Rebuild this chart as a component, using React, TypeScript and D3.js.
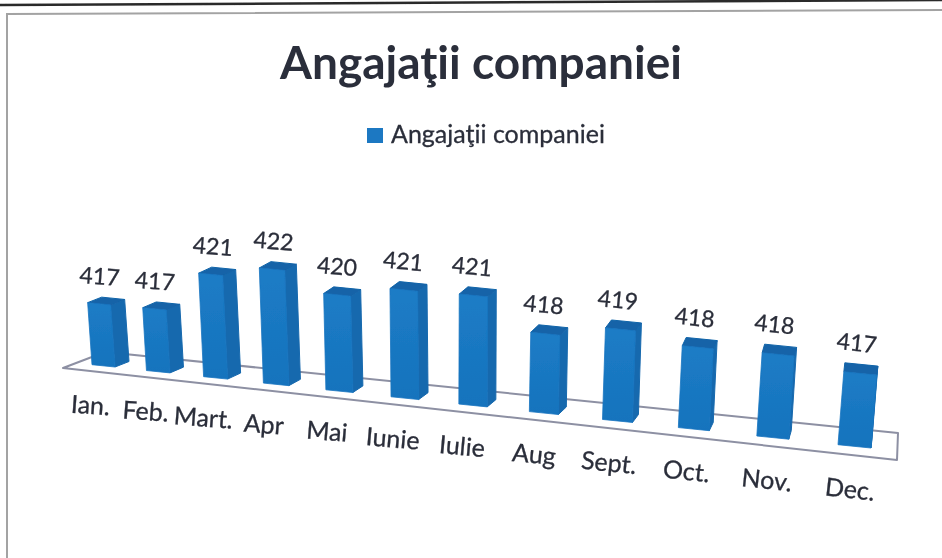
import React from 'react';
import * as d3 from 'd3';

const months = ['Ian.', 'Feb.', 'Mart.', 'Apr', 'Mai', 'Iunie', 'Iulie', 'Aug', 'Sept.', 'Oct.', 'Nov.', 'Dec.'];
const employees = [417, 417, 421, 422, 420, 421, 421, 418, 419, 418, 418, 417];
const title = 'Angajaţii companiei';

const width = 942;
const height = 558;
const fontFamily = 'Lato, "Open Sans", sans-serif';
const textColor = '#2b2e3a';

// the chart sits on a tilted floor, so every scale here depends on the position along that floor
const vanish = 19.9;
const lastIndex = months.length - 1;
const xBase = d3.scalePow().exponent(2).domain([vanish, vanish + lastIndex]).range([92, 838]);
const baseY = d3.scaleLinear().domain([115, 871]).range([367, 448]);
const yUnit = d3.scaleLinear().domain([92, 838]).range([9.65, 11.7]);
const yZero = 410;
const frontWidth = d3.scaleLinear().domain([92, 204, 327, 527, 838]).range([23, 24, 27, 29, 33]);
const sideX = d3.scaleLinear().domain([92, 204, 327, 527, 675, 838]).range([14, 13, 10, 8, 4, 1]);
const sideY = d3.scaleLinear().domain([92, 838]).range([-5.5, -9]);
const lean = d3.scaleLinear().domain([92, 838]).range([-0.07, 0.08]);
const valueDx = d3.scaleLinear().domain([92, 838]).range([7, 18]);
const labelDx = d3.scaleLinear().domain([92, 391, 627, 838]).range([-2, 1, 6, 11]);
const labelY = d3.scaleLinear().domain([90, 849]).range([414, 498]);
const tilt = d3.scaleLinear().domain([92, 838]).range([4, 6.5]);

const floorPath = d3.line()([
  [63, 368],
  [105, 352],
  [898, 433],
  [897, 460],
]) + 'Z';

const polygon = (pts: [number, number][]) => d3.line()(pts) + 'Z';

const bars = employees.map((value, i) => {
  const left = xBase(i + vanish);
  const w = frontWidth(left);
  const dx = sideX(left);
  const dy = sideY(left);
  const by = baseY(left + w);
  const total = (value - yZero) * yUnit(left);
  const h = total + dy;
  const shift = lean(left) * h;
  const bl: [number, number] = [left, by - w * 0.1];
  const br: [number, number] = [left + w, by];
  const tl: [number, number] = [left + shift, bl[1] - h];
  const tr: [number, number] = [left + w + shift, by - h];
  const up = (p: [number, number]): [number, number] => [p[0] + dx, p[1] + dy];
  return {
    value,
    label: months[i],
    left,
    top: by - total,
    front: polygon([tl, tr, br, bl]),
    side: polygon([tr, up(tr), up(br), br]),
    cap: polygon([tl, tr, up(tr), up(tl)]),
  };
});

export default function App() {
  return (
    <svg
      width={width}
      height={height}
      viewBox={`0 0 ${width} ${height}`}
      style={{ position: 'absolute', left: 0, top: 0, background: '#fff' }}
    >
      <defs>
        <linearGradient id="front" x1="0" y1="0" x2="0" y2="1">
          <stop offset="0" stopColor="#1c7cc6" />
          <stop offset="1" stopColor="#1673bd" />
        </linearGradient>
        {/* the reference is a scan, edges are a little soft */}
        <filter id="soft" x="0" y="0" width="100%" height="100%">
          <feGaussianBlur stdDeviation={0.5} />
        </filter>
      </defs>

      <g filter="url(#soft)">
        {/* scan edges */}
        <path d={d3.line()([[0, 5], [width, 0]]) as string} stroke="#2a2a2a" strokeWidth={2.5} fill="none" />
        <path
          d={d3.line()([[7, height], [7, 14], [width, 10]]) as string}
          stroke="#a3a3a3"
          strokeWidth={2}
          fill="none"
        />

        <text
          x={481}
          y={79}
          textAnchor="middle"
          fontFamily={fontFamily}
          fontWeight={700}
          fontSize={46}
          fill={textColor}
        >
          {title}
        </text>

        <rect x={367} y={128} width={16} height={15} fill="#1a78c2" />
        <text
          x={391}
          y={143}
          fontFamily={fontFamily}
          fontSize={25}
          fill={textColor}
          stroke={textColor}
          strokeWidth={0.3}
        >
          {title}
        </text>

        <path d={floorPath} fill="#fff" stroke="#8d90a3" strokeWidth={2} strokeLinejoin="round" />

        {bars.map(b => (
          <g key={b.label}>
            <path d={b.side} fill="#1769ae" stroke="#1769ae" strokeLinejoin="round" />
            <path d={b.cap} fill="#1263a8" stroke="#1263a8" strokeLinejoin="round" />
            <path d={b.front} fill="url(#front)" stroke="#1875c0" strokeLinejoin="round" strokeWidth={0.8} />
          </g>
        ))}

        {bars.map(b => {
          const vx = b.left + valueDx(b.left);
          const vy = b.top - 15;
          const lx = b.left + labelDx(b.left);
          const ly = labelY(lx);
          return (
            <g
              key={b.label}
              fontFamily={fontFamily}
              fill={textColor}
              stroke={textColor}
              strokeWidth={0.3}
              textAnchor="middle"
            >
              <text fontSize={23} transform={`translate(${vx},${vy}) rotate(${tilt(b.left)})`}>
                {b.value}
              </text>
              <text fontSize={25} transform={`translate(${lx},${ly}) rotate(${tilt(b.left)})`}>
                {b.label}
              </text>
            </g>
          );
        })}
      </g>
    </svg>
  );
}
